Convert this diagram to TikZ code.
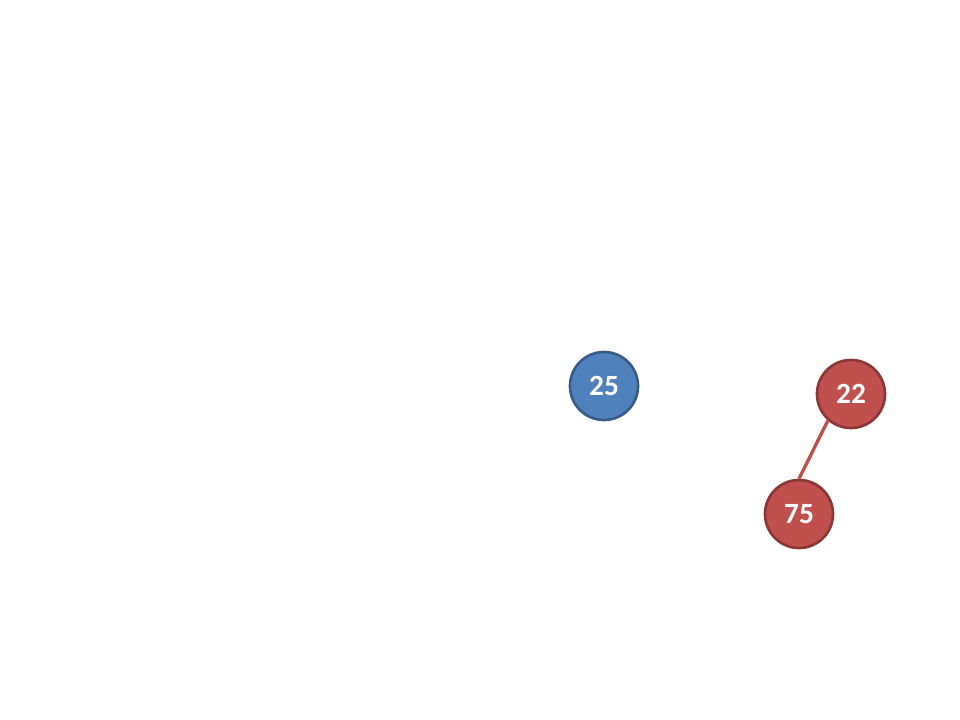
\documentclass[tikz,border=0pt]{standalone}
\usepackage{fontspec}
\setmainfont{Carlito}
\definecolor{bluefill}{HTML}{4F81BD}
\definecolor{blueline}{HTML}{385D8A}
\definecolor{redfill}{HTML}{C0504D}
\definecolor{redline}{HTML}{8C3836}
\begin{document}
\begin{tikzpicture}[x=0.75pt,y=-0.75pt,
  treenode/.style={circle,minimum size=51pt,inner sep=0pt,line width=2pt,
    font=\fontsize{22}{24}\selectfont\bfseries,text=white},
  bluenode/.style={treenode,fill=bluefill,draw=blueline},
  rednode/.style={treenode,fill=redfill,draw=redline},
  edge/.style={draw=redfill,line width=2.5pt}]
\useasboundingbox (0,0) rectangle (960,720);
\fill[white] (0,0) rectangle (960,720);
\node[bluenode] (n25) at (604,386) {25};
\node[rednode] (n22) at (851,394) {22};
\node[rednode] (n75) at (799,514) {75};
\draw[edge] (n22.229) -- (n75.north);
\end{tikzpicture}
\end{document}
